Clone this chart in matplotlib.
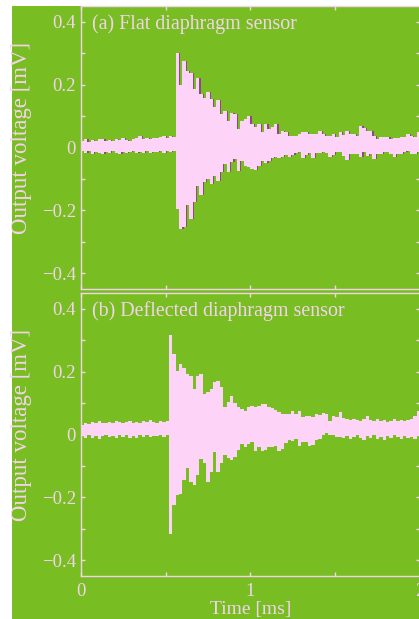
import numpy as np
import matplotlib
matplotlib.use("Agg")
import matplotlib.pyplot as plt
from matplotlib.patches import Rectangle
from matplotlib.ticker import MultipleLocator, FuncFormatter

# sampled envelope of the recorded signals, one value every 0.02 ms from 0 to 2 ms
dt = 0.02

a_upper = [0.022, 0.026, 0.018, 0.024, 0.020, 0.026, 0.028, 0.022, 0.025, 0.020,
           0.027, 0.024, 0.029, 0.025, 0.022, 0.026, 0.030, 0.036, 0.028, 0.030,
           0.026, 0.031, 0.029, 0.033, 0.035, 0.030, 0.037, 0.032,
           0.301, 0.200, 0.275, 0.243, 0.238, 0.185, 0.222, 0.169, 0.159, 0.175,
           0.153, 0.130, 0.150, 0.105, 0.116, 0.085, 0.111, 0.106, 0.058, 0.085,
           0.090, 0.100,
           0.074, 0.064, 0.074, 0.048, 0.074, 0.058, 0.064, 0.074, 0.043, 0.053,
           0.048, 0.037, 0.037, 0.037, 0.043, 0.048, 0.048, 0.043, 0.043, 0.043,
           0.053, 0.043, 0.037, 0.037, 0.043, 0.032, 0.048,
           0.040, 0.053, 0.043, 0.043, 0.037, 0.067, 0.061, 0.053, 0.053, 0.037,
           0.027, 0.032, 0.032, 0.032, 0.027, 0.030, 0.030, 0.032, 0.032, 0.043,
           0.037, 0.032, 0.050]
a_lower = [-0.012, -0.018, -0.010, -0.020, -0.014, -0.016, -0.022, -0.013, -0.018, -0.012,
           -0.016, -0.020, -0.013, -0.017, -0.015, -0.011, -0.019, -0.014, -0.016, -0.012,
           -0.018, -0.013, -0.015, -0.010, -0.016, -0.012, -0.014, -0.011,
           -0.195, -0.258, -0.253, -0.184, -0.226, -0.174, -0.121, -0.152, -0.110, -0.099,
           -0.116, -0.090, -0.105, -0.079, -0.052, -0.079, -0.047, -0.035, -0.074, -0.042,
           -0.058, -0.063,
           -0.068, -0.072, -0.058, -0.044, -0.050, -0.044, -0.034, -0.029, -0.034, -0.029,
           -0.023, -0.029, -0.023, -0.018, -0.013, -0.034, -0.023, -0.018, -0.034, -0.018,
           -0.018, -0.013, -0.018, -0.029, -0.023, -0.013, -0.015,
           -0.026, -0.041, -0.020, -0.020, -0.020, -0.031, -0.015, -0.026, -0.020, -0.036,
           -0.020, -0.020, -0.015, -0.015, -0.020, -0.031, -0.020, -0.020, -0.015, -0.012,
           -0.020, -0.020, -0.015]

b_upper = [0.030, 0.038, 0.034, 0.040, 0.036, 0.042, 0.038, 0.035, 0.041, 0.037,
           0.043, 0.039, 0.036, 0.040, 0.044, 0.038, 0.041, 0.037, 0.042, 0.039,
           0.045, 0.040, 0.038, 0.043, 0.041, 0.044,
           0.315, 0.255, 0.203, 0.224, 0.210, 0.192, 0.187, 0.145, 0.187, 0.192,
           0.129, 0.134, 0.145, 0.166, 0.171, 0.150, 0.087, 0.102, 0.124, 0.100,
           0.087, 0.081, 0.075, 0.087,
           0.092, 0.087, 0.092, 0.097, 0.097, 0.087, 0.084, 0.078, 0.071, 0.065,
           0.065, 0.065, 0.074, 0.065, 0.074, 0.055, 0.060, 0.060, 0.055, 0.065,
           0.063, 0.067, 0.065, 0.044, 0.060, 0.057, 0.071,
           0.052, 0.048, 0.045, 0.050, 0.047, 0.043, 0.049, 0.060, 0.046, 0.044,
           0.048, 0.042, 0.046, 0.040, 0.044, 0.048, 0.043, 0.046, 0.042, 0.047,
           0.050, 0.058, 0.075]
b_lower = [-0.005, -0.012, -0.002, -0.010, -0.004, -0.013, -0.006, -0.001, -0.009, -0.004,
           -0.012, -0.003, -0.008, -0.002, -0.010, -0.005, -0.011, -0.003, -0.007, -0.002,
           -0.009, -0.004, -0.006, -0.001, -0.008, -0.003,
           -0.315, -0.225, -0.193, -0.190, -0.146, -0.108, -0.151, -0.161, -0.130, -0.077,
           -0.090, -0.151, -0.120, -0.056, -0.119, -0.090, -0.065, -0.075, -0.082, -0.070,
           -0.050, -0.030, -0.040, -0.030,
           -0.024, -0.051, -0.040, -0.051, -0.048, -0.040, -0.040, -0.035, -0.051, -0.045,
           -0.027, -0.019, -0.021, -0.014, -0.038, -0.024, -0.024, -0.035, -0.032, -0.019,
           -0.014, -0.003, 0.004, -0.003, 0.000, -0.008, -0.008,
           -0.010, -0.004, -0.015, -0.008, -0.002, -0.012, -0.018, -0.006, -0.010, -0.003,
           -0.014, -0.008, -0.016, -0.005, -0.011, -0.002, -0.009, -0.015, -0.004, -0.010,
           -0.007, -0.013, -0.005]

panel_titles = ["(a) Flat diaphragm sensor", "(b) Deflected diaphragm sensor"]

green = "#78bd22"
pink = "#fdd3f8"
dark = "#8e4a7c"
fg = "#f3d3ea"

plt.rcParams["font.family"] = ["Liberation Serif", "DejaVu Serif"]

W, H = 419, 619
fig = plt.figure(figsize=(W / 100, H / 100), dpi=100, facecolor="white")
fig.patches.append(Rectangle((12 / W, 0), 1, (H - 6) / H, transform=fig.transFigure,
                             facecolor=green, edgecolor="none", zorder=-10))

left = 80.7 / W
width = (420 - 80.7) / W
ax_a = fig.add_axes([left, (H - 289) / H, width, 283 / H])
ax_b = fig.add_axes([left, (H - 576) / H, width, 283 / H])


def minus_fmt(v, pos):
    if abs(v) < 1e-9:
        return "0"
    return f"{v:.1f}".replace("-", "\u2212")


def draw(ax, upper, lower, title, shadow):
    t = np.arange(len(upper) + 1) * dt
    up = list(upper) + [upper[-1]]
    lo = list(lower) + [lower[-1]]
    if shadow:
        ax.fill_between(t + 0.007, lo, up, step="post", color=dark, lw=0, zorder=1)
    ax.fill_between(t, lo, up, step="post", color=pink, lw=0, zorder=2)
    ax.set_facecolor(green)
    ax.set_xlim(0, 2)
    ax.set_ylim(-0.45, 0.45)
    ax.xaxis.set_major_locator(MultipleLocator(1))
    ax.xaxis.set_minor_locator(MultipleLocator(0.5))
    ax.yaxis.set_major_locator(MultipleLocator(0.2))
    ax.yaxis.set_minor_locator(MultipleLocator(0.1))
    ax.yaxis.set_major_formatter(FuncFormatter(minus_fmt))
    ax.tick_params(which="both", direction="in", top=True, right=True,
                   color=fg, labelcolor=fg, labelsize=13.5, length=3, width=1)
    for s in ax.spines.values():
        s.set_color(fg)
        s.set_linewidth(1)
    ax.set_ylabel("Output voltage [mV]", color=fg, fontsize=16.5)
    ax.yaxis.set_label_coords(-0.145, 0.535)
    ax.text(0.033, 0.935, title, transform=ax.transAxes, color=fg, fontsize=14.4,
            va="center", ha="left")


draw(ax_a, a_upper, a_lower, panel_titles[0], True)
draw(ax_b, b_upper, b_lower, panel_titles[1], False)
ax_a.tick_params(labelbottom=False)
ax_b.tick_params(axis="x", pad=5)
ax_b.xaxis.set_major_formatter(FuncFormatter(lambda v, p: f"{v:.0f}"))
ax_b.set_xlabel("Time [ms]", color=fg, fontsize=14, labelpad=1)

fig.savefig("out.png", dpi=100, facecolor="white")
